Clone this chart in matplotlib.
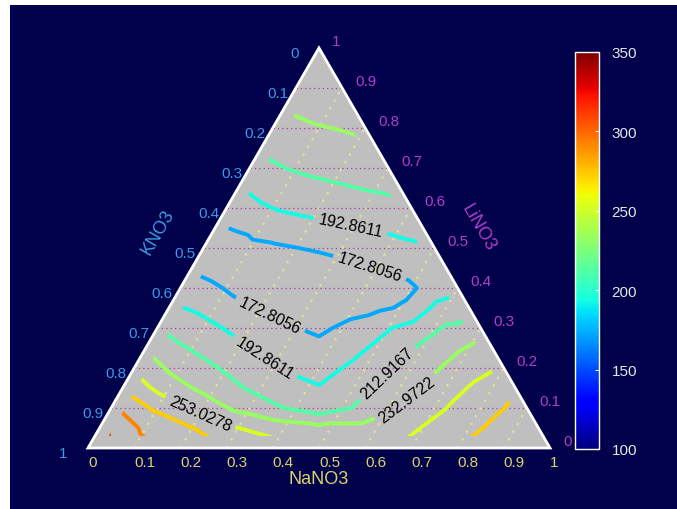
import numpy as np
import matplotlib
matplotlib.use('Agg')
import matplotlib.pyplot as plt
import matplotlib.tri as mtri
from matplotlib.patches import Polygon, Rectangle
from matplotlib.colors import Normalize
from matplotlib.cm import ScalarMappable

plt.rcParams['font.family'] = ['Liberation Sans', 'DejaVu Sans']

# LiNO3 fraction of each row of the composition grid
li_rows = [0.0, 0.05, 0.10, 0.15, 0.20, 0.25, 0.30, 0.35, 0.40, 0.45, 0.50, 0.60, 0.70, 0.80, 0.90]
# place along a row: NaNO3 / (NaNO3 + KNO3)
row_pos = [0.0, 0.1, 0.2, 0.3, 0.4, 0.5, 0.6, 0.7, 0.8, 0.9, 1.0]

# values, one list per LiNO3 row
z_li00 = [325, 300, 287, 273, 262, 253, 246, 258, 273, 283, 290]
z_li05 = [318, 290, 276, 255, 244, 238, 238, 249, 262, 277, 285]
z_li10 = [297, 271, 250, 229, 215, 202, 216, 235, 252, 267, 280]
z_li15 = [271, 246, 229, 214, 201, 194, 208, 222, 240, 257, 272]
z_li20 = [250, 229, 216, 205, 192, 186, 197, 213, 229, 243, 255]
z_li25 = [232, 215, 205, 193, 184, 178, 188, 200, 217, 231, 240]
z_li30 = [213, 202, 193, 184, 175, 169, 178, 190, 201, 216, 228]
z_li35 = [196, 190, 180, 172, 165, 162, 166, 170, 176, 200, 198]
z_li40 = [182, 178, 168, 162, 160, 160, 161, 163, 168, 177, 186]
z_li45 = [170, 163, 160, 160, 162, 165, 168, 172, 176, 181, 185]
z_li50 = [166, 165, 168, 170, 172.5, 175, 178, 181, 185, 189, 192]
z_li60 = [180, 183, 191, 195, 197.5, 200, 202, 204, 206, 208, 209]
z_li70 = [207, 209, 211.5, 214, 216, 217.5, 219, 220.5, 222, 223, 224]
z_li80 = [224, 226, 228, 229.5, 231, 232, 232.8, 233.5, 234.5, 235.5, 236]
z_li90 = [243, 243.5, 244, 244.5, 245, 245.5, 246, 246.5, 247, 247.5, 248]
z_top = 252  # pure LiNO3 corner

contour_levels = [152.7500, 172.8056, 192.8611, 212.9167, 232.9722,
                  253.0278, 273.0833, 293.1389, 313.1944]
ticks = [0, 0.1, 0.2, 0.3, 0.4, 0.5, 0.6, 0.7, 0.8, 0.9, 1]
tick_labels = ['0', '0.1', '0.2', '0.3', '0.4', '0.5', '0.6', '0.7', '0.8', '0.9', '1']
cbar_ticks = [100, 150, 200, 250, 300, 350]

navy = '#00004b'
col_na = '#dcd46c'
col_k = '#3c9ae6'
col_li = '#b43cc8'

h = np.sqrt(3) / 2

z_rows = [z_li00, z_li05, z_li10, z_li15, z_li20, z_li25, z_li30, z_li35,
          z_li40, z_li45, z_li50, z_li60, z_li70, z_li80, z_li90]
na, li, z = [], [], []
for l, row in zip(li_rows, z_rows):
    for p, v in zip(row_pos, row):
        na.append(p * (1 - l))
        li.append(l)
        z.append(v)
na.append(0.0)
li.append(1.0)
z.append(z_top)
na = np.array(na)
li = np.array(li)
z = np.array(z, dtype=float)

x = na + li / 2
y = li * h
tri = mtri.Triangulation(x, y)

fig = plt.figure(figsize=(6.77, 5.10), dpi=100, facecolor='white')
fig.patches.append(Rectangle((10 / 677, 0), 667 / 677, 504 / 510, transform=fig.transFigure,
                             facecolor=navy, edgecolor='none', zorder=-10))

ax = fig.add_axes([0, 0, 1, 1])
ax.set_xlim(-88 / 462, 589 / 462)
ax.set_ylim(-61 / 462, 449 / 462)
ax.axis('off')

corners = [[0, 0], [1, 0], [0.5, h]]
ax.add_patch(Polygon(corners, closed=True, facecolor='#bfbfbf', edgecolor='none', zorder=1))
ax.add_patch(Polygon(corners, closed=True, fill=False, edgecolor='white', lw=2, zorder=6))

# grid: constant LiNO3 (horizontal) and constant NaNO3 lines
for f in ticks[1:-1]:
    ax.plot([f / 2, 1 - f / 2], [f * h, f * h], color='#a8389f', lw=0.9,
            ls=(0, (1, 2.5)), zorder=2)
    ax.plot([f, f + (1 - f) / 2], [0, (1 - f) * h], color='#e8e09a', lw=1.6,
            ls=(0, (1, 3)), zorder=2)

norm = Normalize(100, 350)
cs = ax.tricontour(tri, z, levels=contour_levels, cmap='jet', norm=norm,
                   linewidths=2.8, zorder=3)
e = 0.03
inner = Polygon([[1.5 * e, e * h], [1 - 1.5 * e, e * h], [0.5, (1 - 2 * e) * h]],
                transform=ax.transData)
cs.set_clip_path(inner)

label_spots = [(0.567, 0.476), (0.610, 0.392), (0.396, 0.292), (0.385, 0.199),
               (0.643, 0.167), (0.688, 0.108), (0.238, 0.065)]
ax.clabel(cs, manual=label_spots, inline=True, fmt='%.4f', fontsize=11.5, colors='k')

# tick labels on the three sides
for f, lab in zip(ticks, tick_labels):
    ax.text(f, -0.030, lab, color=col_na, fontsize=11, ha='left', va='center')
    lk = 1 - f
    ax.text(lk / 2 - 0.062, lk * h - 0.01, lab, color=col_k, fontsize=11,
            ha='left', va='center')
    ax.text(1 - f / 2 + 0.028, f * h + 0.015, lab, color=col_li, fontsize=11,
            ha='left', va='center')

ax.text(0.5, -0.066, 'NaNO3', color=col_na, fontsize=13, ha='center', va='center')
ax.text(0.1515, 0.4697, 'KNO3', color=col_k, fontsize=13, rotation=60,
        ha='center', va='center', rotation_mode='anchor')
ax.text(0.844, 0.478, 'LiNO3', color=col_li, fontsize=13, rotation=-60,
        ha='center', va='center', rotation_mode='anchor')

cax = fig.add_axes([575 / 677, 60 / 510, 24 / 677, 397 / 510])
cb = fig.colorbar(ScalarMappable(norm=norm, cmap='jet'), cax=cax, ticks=cbar_ticks)
cb.outline.set_edgecolor('white')
cb.outline.set_linewidth(1)
cax.tick_params(direction='in', length=3, color='white', labelcolor='#e6e6e6',
                labelsize=11, pad=9)

fig.savefig('out.png', dpi=100, facecolor=fig.get_facecolor())
